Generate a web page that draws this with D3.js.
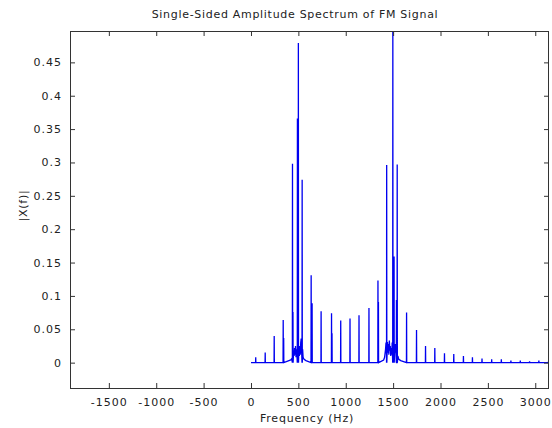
<!DOCTYPE html>
<html><head><meta charset="utf-8">
<script src="https://cdn.jsdelivr.net/npm/d3@7"></script>
<style>
html,body{margin:0;padding:0;background:#fff;}
text{font-family:"DejaVu Sans",Arial,sans-serif;fill:#222;}
</style></head>
<body><svg id="c" width="552" height="428"></svg>
<script>
// ---- data ----
const titleText = "Single-Sided Amplitude Spectrum of FM Signal";
const xLabelText = "Frequency (Hz)";
const yLabelText = "|X(f)|";
const xTicks = [-1500,-1000,-500,0,500,1000,1500,2000,2500,3000];
const yTicks = [0,0.05,0.1,0.15,0.2,0.25,0.3,0.35,0.4,0.45];
const xLimits = [-1910, 3145];
const yLimits = [-0.038, 0.497];

const peakFreqs = [50,150,245,340,438,500,540,635,740,850,947,1045,1140,1245,1340,1432,1497,1543,1642,1747,1842,1940,2042,2140,2242,2337,2438,2540,2642,2743,2842,2940,3038,3140];
const peakAmps  = [0.008,0.015,0.040,0.064,0.298,0.479,0.274,0.131,0.077,0.074,0.063,0.066,0.071,0.082,0.123,0.296,0.52,0.297,0.075,0.049,0.025,0.022,0.014,0.013,0.010,0.008,0.006,0.005,0.005,0.003,0.003,0.002,0.003,0.002];

const sideFreqs = [345,443,490,645,855,1345,1510,1535];
const sideAmps  = [0.037,0.076,0.366,0.089,0.044,0.091,0.159,0.094];

const clusterAFreqs = [420,430,440,450,455,460,465,470,475,480,485,495,505,510,515,520,525,530,535,545,550,560,580];
const clusterAAmps  = [0.004,0.006,0.012,0.018,0.010,0.022,0.012,0.025,0.008,0.020,0.012,0.015,0.020,0.010,0.025,0.012,0.030,0.036,0.015,0.020,0.008,0.005,0.003];
const clusterBFreqs = [1400,1410,1420,1425,1430,1440,1445,1450,1455,1460,1465,1470,1475,1480,1485,1490,1505,1515,1520,1525,1530,1550,1560,1580];
const clusterBAmps  = [0.004,0.008,0.020,0.030,0.012,0.031,0.015,0.028,0.012,0.033,0.018,0.025,0.010,0.022,0.012,0.030,0.020,0.012,0.028,0.015,0.020,0.010,0.005,0.003];

// ---- layout ----
const svg = d3.select("#c");
const L = 70, R = 549, T = 31, B = 388;
const x = d3.scaleLinear().domain(xLimits).range([L, R]);
const y = d3.scaleLinear().domain(yLimits).range([B, T]);

svg.append("defs").append("clipPath").attr("id","clip")
  .append("rect").attr("x",L).attr("y",T).attr("width",R-L).attr("height",B-T);

// build spectrum line points
const pts = [[0,0]];
peakFreqs.forEach((f,i)=>{ pts.push([f-1.5,0],[f,peakAmps[i]],[f+1.5,0]); });
sideFreqs.forEach((f,i)=>{ pts.push([f-1.5,0],[f,sideAmps[i]],[f+1.5,0]); });
clusterAFreqs.forEach((f,i)=>pts.push([f,clusterAAmps[i]]));
clusterBFreqs.forEach((f,i)=>pts.push([f,clusterBAmps[i]]));
pts.push([3300,0]);
pts.sort((a,b)=>a[0]-b[0]);

const line = d3.line().x(d=>x(d[0])).y(d=>y(d[1]));
svg.append("path").datum(pts).attr("clip-path","url(#clip)")
  .attr("d",line).attr("fill","none").attr("stroke","#0000f0")
  .attr("stroke-width",1.3).attr("stroke-linejoin","miter");

// axes (MATLAB-like box with inward ticks)
const fmtY = d => d===0 ? "0" : String(+d.toFixed(2));
const axB = d3.axisBottom(x).tickValues(xTicks).tickSizeInner(-5).tickSizeOuter(0).tickPadding(10).tickFormat(d=>String(d));
const axT = d3.axisTop(x).tickValues(xTicks).tickSizeInner(-5).tickSizeOuter(0).tickFormat("");
const axL = d3.axisLeft(y).tickValues(yTicks).tickSizeInner(-5).tickSizeOuter(0).tickPadding(8).tickFormat(fmtY);
const axR = d3.axisRight(y).tickValues(yTicks).tickSizeInner(-5).tickSizeOuter(0).tickFormat("");

function style(g){
  g.select(".domain").remove();
  g.selectAll(".tick line").attr("stroke","#333");
  g.selectAll("text").attr("font-size","11px").attr("letter-spacing","1px")
    .attr("fill","#333").style("font-family","'DejaVu Sans',Arial,sans-serif");
}
svg.append("g").attr("transform",`translate(0,${B})`).call(axB).call(style);
svg.append("g").attr("transform",`translate(0,${T})`).call(axT).call(style);
svg.append("g").attr("transform",`translate(${L},0)`).call(axL).call(style);
svg.append("g").attr("transform",`translate(${R},0)`).call(axR).call(style);

svg.append("rect").attr("x",L+0.5).attr("y",T+0.5).attr("width",R-L-1).attr("height",B-T)
  .attr("fill","none").attr("stroke","#333").attr("stroke-width",1);

// labels
svg.append("text").attr("x",295).attr("y",18).attr("text-anchor","middle")
  .attr("font-size","11px").attr("letter-spacing","0.7px").attr("fill","#333").text(titleText);
svg.append("text").attr("x",307).attr("y",422).attr("text-anchor","middle")
  .attr("font-size","11px").attr("letter-spacing","0.8px").attr("fill","#333").text(xLabelText);
svg.append("text").attr("transform",`translate(27,${(T+B)/2 - 4}) rotate(-90)`).attr("text-anchor","middle")
  .attr("font-size","11px").attr("letter-spacing","0.8px").attr("fill","#333").text(yLabelText);
</script></body></html>
